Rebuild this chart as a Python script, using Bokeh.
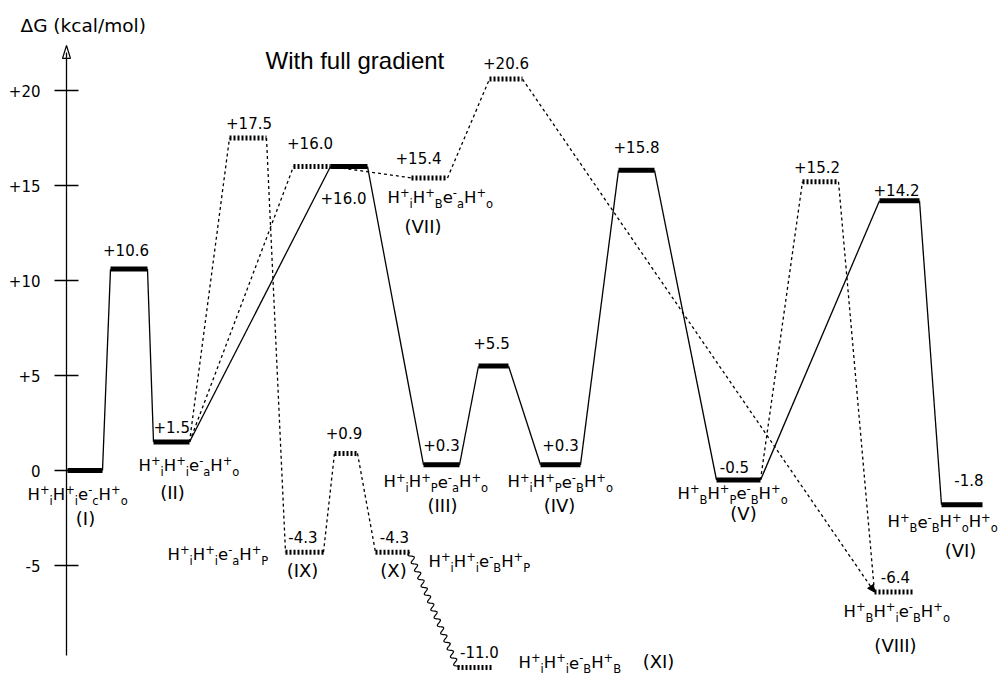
import numpy as np
from bokeh.plotting import figure
from bokeh.models import ColumnDataSource, Range1d, FixedTicker, Arrow, NormalHead, Label
from bokeh.core.properties import value, field
from bokeh.embed import file_html
from bokeh.resources import INLINE

# ------------------------------------------------------------------ data
state_ids = ["I", "TS_I_II", "II", "TS_II_IX", "TS_II_VII", "TS_II_III", "VII",
             "TS_VII_VIII", "III", "TS_III_IV", "IV", "TS_IV_V", "V", "TS_V_VIII",
             "TS_V_VI", "VI", "VIII", "IX", "TS_IX_X", "X", "XI"]
energies = [0.0, 10.6, 1.5, 17.5, 16.0, 16.0, 15.4,
            20.6, 0.3, 5.5, 0.3, 15.8, -0.5, 15.2,
            14.2, -1.8, -6.4, -4.3, 0.9, -4.3, -11.0]
main_path = ["I", "TS_I_II", "II", "TS_II_III", "III", "TS_III_IV", "IV",
             "TS_IV_V", "V", "TS_V_VI", "VI"]
species_names = {
    "I": "H^+_iH^+_ie^-_cH^+_o",
    "II": "H^+_iH^+_ie^-_aH^+_o",
    "III": "H^+_iH^+_Pe^-_aH^+_o",
    "IV": "H^+_iH^+_Pe^-_BH^+_o",
    "V": "H^+_BH^+_Pe^-_BH^+_o",
    "VI": "H^+_Be^-_BH^+_oH^+_o",
    "VII": "H^+_iH^+_Be^-_aH^+_o",
    "VIII": "H^+_BH^+_ie^-_BH^+_o",
    "IX": "H^+_iH^+_ie^-_aH^+_P",
    "X": "H^+_iH^+_ie^-_BH^+_P",
    "XI": "H^+_iH^+_ie^-_BH^+_B",
}
roman = {s: "(" + s + ")" for s in species_names}
solid_links = [("I", "TS_I_II"), ("TS_I_II", "II"), ("II", "TS_II_III"), ("TS_II_III", "III"),
               ("III", "TS_III_IV"), ("TS_III_IV", "IV"), ("IV", "TS_IV_V"), ("TS_IV_V", "V"),
               ("V", "TS_V_VI"), ("TS_V_VI", "VI")]
dashed_links = [("II", "TS_II_IX"), ("TS_II_IX", "IX"), ("IX", "TS_IX_X"), ("TS_IX_X", "X"),
                ("II", "TS_II_VII"), ("TS_II_VII", "VII"), ("VII", "TS_VII_VIII"),
                ("V", "TS_V_VIII"), ("TS_V_VIII", "VIII")]
arrow_links = [("TS_VII_VIII", "VIII")]
wavy_links = [("X", "XI")]
tick_values = [-5, 0, 5, 10, 15, 20]
tick_labels = ["-5", "0", "+5", "+10", "+15", "+20"]
axis_title = "\u0394G (kcal/mol)"
chart_title = "With full gradient"

# ------------------------------------------------------------------ layout
W, H = 1003, 676
PX = 19.0            # pixels per kcal/mol
ZERO_PX = 470        # canvas pixel row of 0 kcal/mol
E_HI = ZERO_PX / PX
E_LO = (ZERO_PX - H) / PX
BREAK_AT, BREAK_SCALE = -7.5, 0.82   # broken scale below the axis end
AXIS_X = 66
AXIS_BOUNDS = (-9.74, 22.0)
AXIS_TIP = 22.37

bar_x = {
    "I": (67, 102), "TS_I_II": (110, 147), "II": (153, 189), "TS_II_IX": (229, 266),
    "TS_II_VII": (293, 330), "TS_II_III": (330, 367), "VII": (411, 447),
    "TS_VII_VIII": (489, 522), "III": (423, 459), "TS_III_IV": (478, 508),
    "IV": (540, 580), "TS_IV_V": (618, 654), "V": (716, 760), "TS_V_VIII": (802, 838),
    "TS_V_VI": (879, 919), "VI": (941, 982), "VIII": (874, 914), "IX": (285, 323),
    "TS_IX_X": (334, 357), "X": (375, 409), "XI": (457, 493)}

# (anchor, dx, baseline dy) in pixels
value_pos = {
    "TS_I_II": ("center", -3, -14), "II": ("left", 0, -9.5), "TS_II_IX": ("center", 1, -9.5),
    "TS_II_VII": ("center", -2, -18), "TS_II_III": ("right", -1, 37),
    "VII": ("center", -11, -14.5), "TS_VII_VIII": ("center", 0, -10.5),
    "III": ("center", 0, -14), "TS_III_IV": ("center", -2, -17.5), "IV": ("center", 0, -14),
    "TS_IV_V": ("center", 0, -18), "V": ("center", -4, -7.5), "TS_V_VIII": ("center", -3.5, -9),
    "TS_V_VI": ("center", -3, -5), "VI": ("right", 1, -19), "VIII": ("center", 1, -10),
    "IX": ("center", -1.5, -10), "TS_IX_X": ("center", -2, -15), "X": ("center", 2, -10),
    "XI": ("center", 4, -10)}

species_pos = {"I": (-40, 30), "II": (-15, 29.5), "III": (-40, 23), "IV": (-33, 23),
               "V": (-39, 19.5), "VI": (-54, 23), "VII": (-24, 25.6), "VIII": (-31, 25.4),
               "IX": (-118, 8.3), "X": (53, 15), "XI": (61, 1)}
roman_pos = {"I": (0.5, 55), "II": (1, 57.5), "III": (1, 47.7), "IV": (-1, 47.7),
             "V": (5, 40.5), "VI": (-1.5, 52.8), "VII": (-6.5, 55.6), "VIII": (1, 60.4),
             "IX": (-2, 25.3), "X": (1, 25), "XI": (183, 1)}

FONT = "DejaVu Sans"
VAL_SIZE = 15
ROMAN_SIZE = 18
SPEC_MAIN, SPEC_SCRIPT = 16.5, 11.5
SUP_RAISE, SUB_DROP = 6.5, 4.5
CAP = 0.729          # cap height of the font, in em (baseline -> visual middle)
ADV = {"H": 0.7520, "e": 0.6152, "+": 0.8379, "-": 0.3608, "i": 0.2778, "a": 0.6128,
       "o": 0.6118, "c": 0.5498, "B": 0.6860, "P": 0.6030}

# ------------------------------------------------------------------ derived
E = dict(zip(state_ids, energies))


def shown(e):
    return e if e >= BREAK_AT else BREAK_AT + (e - BREAK_AT) * BREAK_SCALE


Y = {s: shown(E[s]) for s in state_ids}
CX = {s: 0.5 * (bar_x[s][0] + bar_x[s][1]) for s in state_ids}

p = figure(width=W, height=H, x_range=Range1d(0, W), y_range=Range1d(E_LO, E_HI),
           output_backend="svg", toolbar_location=None, min_border=0, x_axis_type=None)
p.outline_line_color = None
p.grid.visible = False
p.background_fill_color = "white"
p.border_fill_color = "white"

ax = p.yaxis[0]
ax.fixed_location = AXIS_X
ax.bounds = AXIS_BOUNDS
ax.ticker = FixedTicker(ticks=tick_values)
ax.major_label_overrides = dict(zip(tick_values, tick_labels))
ax.major_tick_in = 12
ax.major_tick_out = 12
ax.minor_tick_line_color = None
ax.axis_line_width = 1.3
ax.major_tick_line_width = 1.3
ax.axis_line_color = "black"
ax.major_tick_line_color = "black"
ax.major_label_text_font = FONT
ax.major_label_text_font_size = "15px"
ax.major_label_text_color = "black"
ax.major_label_standoff = 14

# axis arrow head (narrow, open)
head_len = 13 / PX
p.patch([AXIS_X - 4, AXIS_X, AXIS_X + 4], [AXIS_TIP - head_len, AXIS_TIP, AXIS_TIP - head_len],
        fill_color="white", line_color="black", line_width=1.2)


# connectors
def link_src(links):
    return ColumnDataSource(dict(
        x0=[bar_x[a][1] for a, b in links], y0=[Y[a] for a, b in links],
        x1=[bar_x[b][0] for a, b in links], y1=[Y[b] for a, b in links]))


p.segment("x0", "y0", "x1", "y1", source=link_src(solid_links), line_color="black", line_width=1.3)
p.segment("x0", "y0", "x1", "y1", source=link_src(dashed_links), line_color="black",
          line_width=1.3, line_dash="3 3")
for a, b in arrow_links:
    p.add_layout(Arrow(end=NormalHead(size=7, fill_color="black", line_color="black"),
                       x_start=bar_x[a][1], y_start=Y[a], x_end=bar_x[b][0], y_end=Y[b],
                       line_color="black", line_width=1.3, line_dash="3 3"))

# wavy connector (visual break)
for a, b in wavy_links:
    xa, ya = bar_x[a][1], Y[a]
    xb, yb = bar_x[b][0], Y[b]
    dxp, dyp = xb - xa, -(yb - ya) * PX
    L = np.hypot(dxp, dyp)
    t = np.linspace(0, 1, 300)
    off = 2.5 * np.sin(2 * np.pi * t * L / 8.5)
    nx, ny = -dyp / L, dxp / L
    px_ = xa + dxp * t + nx * off
    py_ = -(dyp * t + ny * off)
    p.line(px_, ya + py_ / PX, line_color="black", line_width=1.2)

# energy level bars
solid = [s for s in state_ids if s in main_path]
dotted = [s for s in state_ids if s not in main_path]
for group, dash in ((solid, "solid"), (dotted, "2 2")):
    src = ColumnDataSource(dict(x0=[bar_x[s][0] for s in group], x1=[bar_x[s][1] for s in group],
                                y=[Y[s] for s in group]))
    p.segment("x0", "y", "x1", "y", source=src, line_color="black", line_width=5, line_dash=dash)

# energy value labels
for align in ("center", "left", "right"):
    ids = [s for s in state_ids if s in value_pos and value_pos[s][0] == align]
    anchor = {"center": lambda s: CX[s], "left": lambda s: bar_x[s][0],
              "right": lambda s: bar_x[s][1]}[align]
    src = ColumnDataSource(dict(
        x=[anchor(s) for s in ids], y=[Y[s] for s in ids],
        text=[format(E[s], "+.1f") for s in ids],
        xo=[value_pos[s][1] for s in ids],
        yo=[value_pos[s][2] - CAP * VAL_SIZE / 2 for s in ids]))
    p.text("x", "y", text="text", x_offset="xo", y_offset="yo", source=src,
           text_font=value(FONT), text_font_size=f"{VAL_SIZE}px", text_color="black",
           text_align=align, text_baseline="middle")


# species labels with super/subscripts
def runs(markup):
    out, i = [], 0
    while i < len(markup):
        c = markup[i]
        if c in "^_":
            out.append((markup[i + 1], "sup" if c == "^" else "sub"))
            i += 2
        else:
            out.append((c, "main"))
            i += 1
    return out


cols = dict(x=[], y=[], text=[], xo=[], yo=[], size=[])
for s, markup in species_names.items():
    dx, dy = species_pos[s]
    cur = dx
    for ch, kind in runs(markup):
        size = SPEC_MAIN if kind == "main" else SPEC_SCRIPT
        shift = -SUP_RAISE if kind == "sup" else SUB_DROP if kind == "sub" else 0
        cols["x"].append(bar_x[s][0])
        cols["y"].append(Y[s])
        cols["text"].append(ch)
        cols["xo"].append(cur)
        cols["yo"].append(dy + shift - CAP * size / 2)
        cols["size"].append(f"{size}px")
        cur += ADV[ch] * size
p.text("x", "y", text="text", x_offset="xo", y_offset="yo", source=ColumnDataSource(cols),
       text_font=value(FONT), text_font_size=field("size"), text_color="black",
       text_align="left", text_baseline="middle")

# roman numerals
rsrc = ColumnDataSource(dict(
    x=[CX[s] for s in roman], y=[Y[s] for s in roman], text=[roman[s] for s in roman],
    xo=[roman_pos[s][0] for s in roman],
    yo=[roman_pos[s][1] - CAP * ROMAN_SIZE / 2 for s in roman]))
p.text("x", "y", text="text", x_offset="xo", y_offset="yo", source=rsrc,
       text_font=value(FONT), text_font_size=f"{ROMAN_SIZE}px", text_color="black",
       text_align="center", text_baseline="middle")

# titles
p.add_layout(Label(x=20, y=23.4, text=axis_title, text_font=FONT, text_font_size="18.5px",
                   text_color="black", text_baseline="middle", text_align="left"))
p.add_layout(Label(x=265, y=21.56, text=chart_title, text_font="Liberation Sans",
                   text_font_size="24px", text_color="black", text_baseline="middle",
                   text_align="left"))

open("out.html", "w").write(file_html(p, INLINE))
